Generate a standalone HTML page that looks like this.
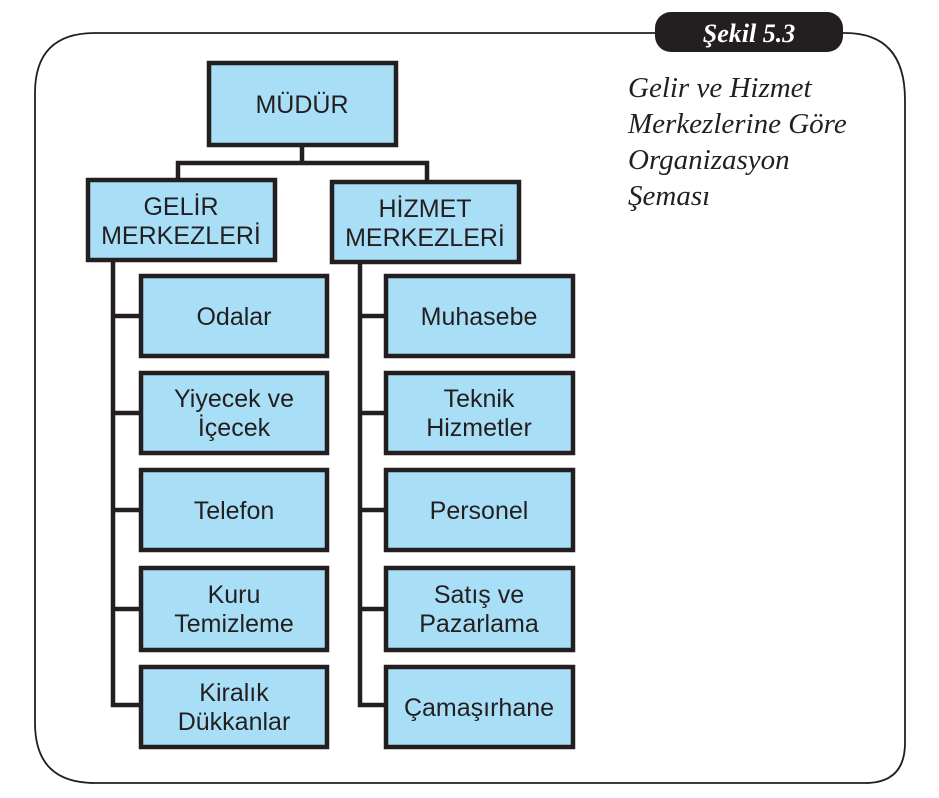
<!DOCTYPE html>
<html><head><meta charset="utf-8"><style>
html,body{margin:0;padding:0;background:#fff;}
svg{display:block}
.b{fill:#a8dff7;stroke:#231f20;stroke-width:4.5}
.t{font-family:"Liberation Sans",sans-serif;font-size:25px;fill:#231f20;text-anchor:middle}
.c{font-family:"Liberation Serif",serif;font-style:italic;font-size:29px;fill:#231f20}
</style></head><body>
<svg width="939" height="798" viewBox="0 0 939 798" xmlns="http://www.w3.org/2000/svg">
<path d="M95 33 H845 Q905 33 905 100 V743 Q905 783 865 783 H95 Q35 783 35 723 V93 Q35 33 95 33 Z" fill="none" stroke="#231f20" stroke-width="1.8"/>
<rect x="655" y="12" width="188" height="40" rx="16" fill="#231f20"/>
<text x="749" y="42" text-anchor="middle" font-family="Liberation Serif,serif" font-style="italic" font-weight="bold" font-size="26" fill="#fff">Şekil 5.3</text>
<text class="c" x="628" y="97">Gelir ve Hizmet</text>
<text class="c" x="628" y="133">Merkezlerine Göre</text>
<text class="c" x="628" y="169">Organizasyon</text>
<text class="c" x="628" y="205">Şeması</text>
<g stroke="#231f20" stroke-width="4.5" fill="none">
<path d="M302 145 V163 M178 182 V163 H427 V184"/>
<path d="M113 260 V705 H141 M113 316 H141 M113 413 H141 M113 510 H141 M113 609 H141"/>
<path d="M360 262 V705 H386 M360 316 H386 M360 413 H386 M360 510 H386 M360 609 H386"/>
</g>
<rect class="b" x="209" y="63" width="187" height="82"/>
<rect class="b" x="88" y="180" width="187" height="80"/>
<rect class="b" x="332" y="182" width="187" height="80"/>
<g>
<rect class="b" x="141" y="276" width="186" height="80"/>
<rect class="b" x="141" y="373" width="186" height="80"/>
<rect class="b" x="141" y="470" width="186" height="80"/>
<rect class="b" x="141" y="568" width="186" height="82"/>
<rect class="b" x="141" y="667" width="186" height="80"/>
<rect class="b" x="386" y="276" width="187" height="80"/>
<rect class="b" x="386" y="373" width="187" height="80"/>
<rect class="b" x="386" y="470" width="187" height="80"/>
<rect class="b" x="386" y="568" width="187" height="82"/>
<rect class="b" x="386" y="667" width="187" height="80"/>
</g>
<text class="t" x="302" y="113">MÜDÜR</text>
<text class="t" x="181" y="215">GELİR</text>
<text class="t" x="181" y="244">MERKEZLERİ</text>
<text class="t" x="425" y="217">HİZMET</text>
<text class="t" x="425" y="246">MERKEZLERİ</text>
<text class="t" x="234" y="325">Odalar</text>
<text class="t" x="234" y="407">Yiyecek ve</text>
<text class="t" x="234" y="436">İçecek</text>
<text class="t" x="234" y="519">Telefon</text>
<text class="t" x="234" y="603">Kuru</text>
<text class="t" x="234" y="632">Temizleme</text>
<text class="t" x="234" y="701">Kiralık</text>
<text class="t" x="234" y="730">Dükkanlar</text>
<text class="t" x="479" y="325">Muhasebe</text>
<text class="t" x="479" y="407">Teknik</text>
<text class="t" x="479" y="436">Hizmetler</text>
<text class="t" x="479" y="519">Personel</text>
<text class="t" x="479" y="603">Satış ve</text>
<text class="t" x="479" y="632">Pazarlama</text>
<text class="t" x="479" y="716">Çamaşırhane</text>
</svg>
</body></html>
